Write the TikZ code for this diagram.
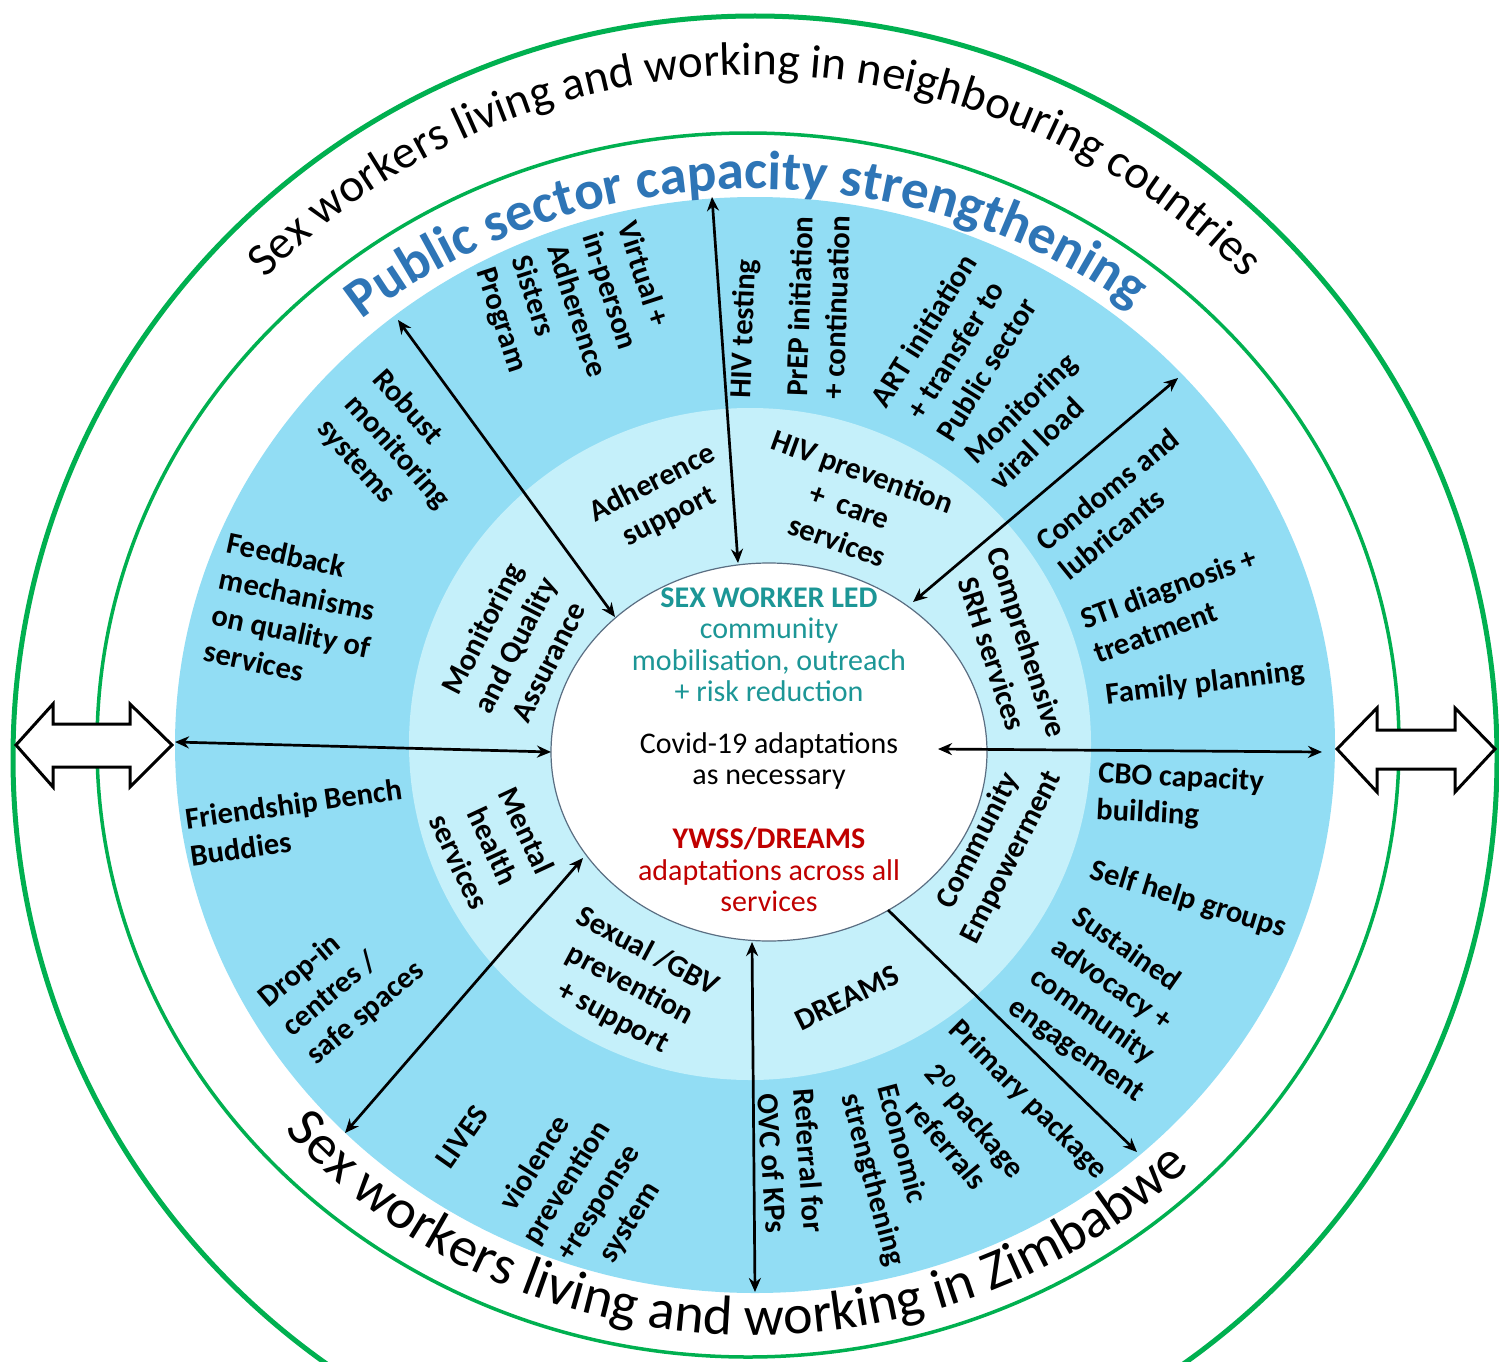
\documentclass[tikz,border=0pt]{standalone}
\usepackage{fontspec}
\setmainfont{Carlito}
\usetikzlibrary{arrows.meta,decorations.text}
\definecolor{swgreen}{RGB}{0,176,80}
\definecolor{bandblue}{RGB}{146,221,244}
\definecolor{ringblue}{RGB}{197,240,250}
\definecolor{titleblue}{RGB}{46,117,182}
\definecolor{tealtxt}{RGB}{28,150,150}
\definecolor{redtxt}{RGB}{192,0,0}
\definecolor{rimgray}{RGB}{90,110,130}
\begin{document}
\begin{tikzpicture}[x=1pt,y=1pt,
  lbl/.style={font=\fontsize{30.6}{37}\selectfont\bfseries, inner sep=0pt},
  ctr/.style={font=\fontsize{30}{31.5}\selectfont, align=center, inner sep=0pt},
  link/.style={line width=2.7pt, {Stealth[length=14pt,width=12pt]}-{Stealth[length=14pt,width=12pt]}},
  linkone/.style={line width=2.7pt, -{Stealth[length=14pt,width=12pt]}},
  bigarrow/.style={draw=black, line width=3pt, fill=white, line join=miter}]
\useasboundingbox (0,0) rectangle (1499,-1362);
\clip (0,0) rectangle (1499,-1362);
\fill[white] (0,0) rectangle (1499,-1362);
\coordinate (C) at (755,-745);
\coordinate (CT) at (755,-752);
\coordinate (CB) at (755,-757);
% rings
\draw[swgreen, line width=5pt] (755,-758) circle[radius=742pt];
\draw[swgreen, line width=3.5pt] (748,-745) ellipse[x radius=651pt, y radius=612pt];
\fill[bandblue] (755,-745) ellipse[x radius=580pt, y radius=548pt];
\fill[ringblue] (750,-744) ellipse[x radius=341pt, y radius=336pt];
\filldraw[fill=white, draw=rimgray, line width=1.2pt] (769,-752) ellipse[x radius=218pt, y radius=189pt];
% curved texts
\path[decorate, decoration={text along path, text align=center,
  text={|\fontsize{47}{50}\selectfont|Sex workers living and working in neighbouring countries}}]
  ([shift={(180:685pt and 677pt)}]CT) arc[start angle=180, end angle=0, x radius=685pt, y radius=677pt];
\path[decorate, decoration={text along path, text align=center,
  text={|\fontsize{55}{60}\selectfont\bfseries\color{titleblue}|Public sector capacity strengthening}}]
  ([shift={(181:610pt and 556pt)}]C) arc[start angle=181, end angle=1, x radius=610pt, y radius=556pt];
\path[decorate, decoration={text along path, text align=center,
  text={|\fontsize{56}{60}\selectfont|Sex workers living and working in Zimbabwe}}]
  ([shift={(177.5:617pt and 578pt)}]CB) arc[start angle=177.5, end angle=357.5, x radius=617pt, y radius=578pt];
% outer band labels
\node[lbl, align=left, rotate=-72] (virt) at (576,-311) {Virtual +\\in-person\\Adherence\\Sisters\\Program};
\node[lbl, rotate=88] (hivt) at (745,-329) {HIV testing};
\node[lbl, align=center, rotate=88] (prep) at (818,-307) {PrEP initiation\\+ continuation};
\node[lbl, align=center, rotate=58] (art) at (955,-350) {ART initiation\\+ transfer to\\Public sector};
\node[lbl, align=left, rotate=44] (vl) at (1033,-421) {Monitoring\\viral load};
\node[lbl, align=left, rotate=39] (cond) at (1119,-504) {Condoms and\\lubricants};
\node[lbl, align=left, rotate=20] (sti) at (1175,-605) {STI diagnosis +\\treatment};
\node[lbl, rotate=7] (fp) at (1205,-684) {Family planning};
\node[lbl, align=left, rotate=-3] (cbo) at (1180,-797) {CBO capacity\\building};
\node[lbl, rotate=-17] (shg) at (1188,-900) {Self help groups};
\node[lbl, align=left, rotate=-35] (sust) at (1108,-1005) {Sustained\\advocacy +\\community\\engagement};
\node[lbl, rotate=-45] (prim) at (1028,-1100) {Primary package};
\node[lbl, align=center, rotate=-50] (sec) at (962,-1132) {2\textsuperscript{0} package\\referrals};
\node[lbl, align=left, rotate=-75] (econ) at (890,-1175) {Economic\\strengthening};
\node[lbl, align=center, rotate=-86] (ovc) at (791,-1162) {Referral for\\OVC of KPs};
\node[lbl, align=center, rotate=58] (viol) at (583,-1193) {violence\\prevention\\+response\\system};
\node[lbl, rotate=55] (lives) at (462,-1137) {LIVES};
\node[lbl, align=left, rotate=40] (drop) at (342,-985) {Drop-in\\centres /\\safe spaces};
\node[lbl, align=left, rotate=8] (fb) at (296,-822) {Friendship Bench\\Buddies};
\node[lbl, align=left, rotate=-12] (feed) at (295,-613) {Feedback\\mechanisms\\on quality of\\services};
\node[lbl, align=left, rotate=-48] (rob) at (397,-452) {Robust\\monitoring\\systems};
% inner ring labels
\node[lbl, align=center, rotate=27] (adh) at (661,-500) {Adherence\\support};
\node[lbl, align=center, rotate=-20] (hivp) at (850,-506) {HIV prevention\\+\ \ care\\services};
\node[lbl, align=center, rotate=-72] (srh) at (1010,-648) {Comprehensive\\SRH services};
\node[lbl, align=center, rotate=63] (ce) at (995,-849) {Community\\Empowerment};
\node[lbl, rotate=26] (dreams) at (847,-998) {DREAMS};
\node[lbl, align=center, rotate=-28] (gbv) at (630,-985) {Sexual /GBV\\prevention\\+ support};
\node[lbl, align=center, rotate=-65] (mh) at (493,-846) {Mental\\health\\services};
\node[lbl, align=center, rotate=63] (mqa) at (515,-645) {Monitoring\\and Quality\\Assurance};
% centre texts
\node[ctr, text=tealtxt] (led) at (769,-645) {\textbf{SEX WORKER LED}\\community\\mobilisation, outreach\\+ risk reduction};
\node[ctr] (covid) at (769,-761) {Covid-19 adaptations\\as necessary};
\node[ctr, text=redtxt] (ywss) at (769,-870) {\textbf{YWSS/DREAMS}\\adaptations across all\\services};
% connectors
\coordinate (a1) at (738,-563); \coordinate (b1) at (712,-197);
\coordinate (a2) at (615,-617); \coordinate (b2) at (398,-320);
\coordinate (a3) at (913,-602); \coordinate (b3) at (1178,-378);
\coordinate (a4) at (551,-752); \coordinate (b4) at (175,-742);
\coordinate (a5) at (938,-749); \coordinate (b5) at (1322,-752);
\coordinate (a6) at (583,-858); \coordinate (b6) at (345,-1133);
\coordinate (a7) at (752,-942); \coordinate (b7) at (755,-1292);
\coordinate (a8) at (888,-910); \coordinate (b8) at (1137,-1152);
\draw[link] (a1) -- (b1);
\draw[link] (a2) -- (b2);
\draw[link] (a3) -- (b3);
\draw[link] (a4) -- (b4);
\draw[link] (a5) -- (b5);
\draw[link] (a6) -- (b6);
\draw[link] (a7) -- (b7);
\draw[linkone] (a8) -- (b8);
% double block arrows
\draw[bigarrow] (16,-745) -- (53,-704) -- (53,-724) -- (130,-724) -- (130,-704) -- (172,-745) -- (130,-787) -- (130,-767) -- (53,-767) -- (53,-787) -- cycle;
\draw[bigarrow] (1337,-749) -- (1377,-708) -- (1377,-730) -- (1455,-730) -- (1455,-708) -- (1495,-749) -- (1455,-792) -- (1455,-769) -- (1377,-769) -- (1377,-792) -- cycle;
\end{tikzpicture}
\end{document}
